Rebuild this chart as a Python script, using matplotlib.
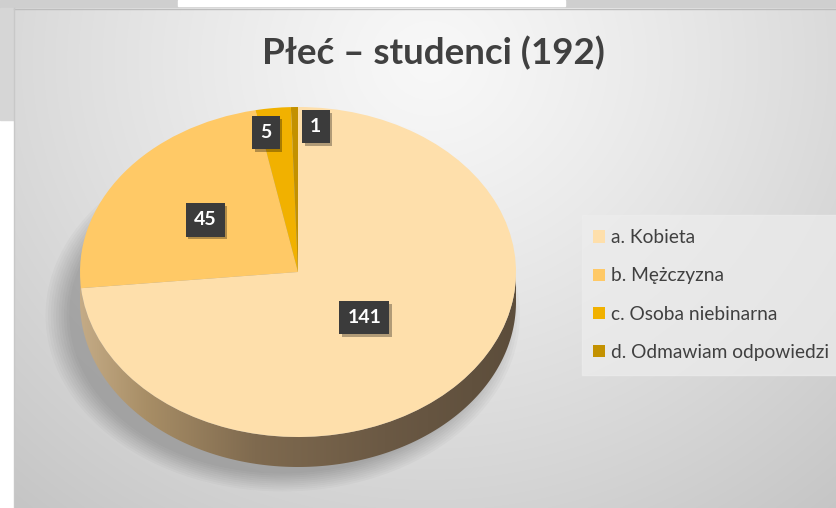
import numpy as np
import matplotlib
matplotlib.use("Agg")
import matplotlib.pyplot as plt
import matplotlib.patheffects as pe
from matplotlib.path import Path
from matplotlib.patches import PathPatch, Rectangle, Ellipse
from matplotlib.colors import LinearSegmentedColormap

# data
categories = ['a. Kobieta', 'b. Mężczyzna', 'c. Osoba niebinarna', 'd. Odmawiam odpowiedzi']
counts = [141, 45, 5, 1]
colors = ['#FEDFAB', '#FFC966', '#F1B100', '#C39100']
title = 'Płeć – studenci (192)'

plt.rcParams['font.family'] = ['Lato', 'DejaVu Sans']

W, H = 837, 508
fig = plt.figure(figsize=(W / 100, H / 100), dpi=100)

# background (pixel coordinates)
bg = fig.add_axes([0, 0, 1, 1])
bg.set_xlim(0, W)
bg.set_ylim(H, 0)
bg.axis('off')
bg.add_patch(Rectangle((0, 0), W, H, color='white', zorder=0))
bg.add_patch(Rectangle((0, 0), W, 8, color='#cfcfcf', zorder=1))
bg.add_patch(Rectangle((178, 0), 387, 6, color='white', zorder=2))
bg.add_patch(Rectangle((0, 8), 14, 112, color='#d6d6d6', zorder=1))

# panel gradient
yy, xx = np.mgrid[8:H, 14:W]
d = np.sqrt(((xx - 430) / 520.0) ** 2 + ((yy - 60) / 480.0) ** 2)
shade = np.clip(248 - 40 * d ** 1.2, 195, 250) / 255.0
bg.imshow(np.dstack([shade] * 3), extent=(14, W, H, 8), zorder=1, aspect='auto')
bg.plot([14, W], [8.5, 8.5], color='#bdbdbd', lw=1, zorder=3)
bg.plot([14.5, 14.5], [8, H], color='#c8c8c8', lw=1, zorder=3)
# legend panel
bg.add_patch(Rectangle((582, 215), 255, 160, color='#ededed', alpha=0.7, zorder=3))

bg.text(433, 53, title, ha='center', va='center', fontsize=26.5, fontweight='bold',
        color='#404040', zorder=4)

# pie axes: top face ellipse centred at (298, 272), semi-axes 218 x 165 px
cx, cy, rx, ry = 298, 272, 218, 165
x0, x1, y0, y1 = 30, 570, 85, 505   # axes box in pixels
ax = fig.add_axes([x0 / W, (H - y1) / H, (x1 - x0) / W, (y1 - y0) / H])
ax.patch.set_alpha(0)
depth = 30 / ry

# soft shadow (mostly to the lower left)
for k in range(10):
    ax.add_patch(Ellipse((-0.07, -depth - 0.08), 2 * (0.98 + 0.012 * k), 2 * (0.96 + 0.012 * k),
                         color='black', alpha=0.022, lw=0, zorder=0))

# side wall
t = np.linspace(np.pi, 2 * np.pi, 200)
top = np.column_stack([np.cos(t), np.sin(t)])
bot = np.column_stack([np.cos(t[::-1]), np.sin(t[::-1]) - depth])
verts = np.vstack([top, bot, top[:1]])
codes = [Path.MOVETO] + [Path.LINETO] * (len(verts) - 2) + [Path.CLOSEPOLY]
wall = PathPatch(Path(verts, codes), facecolor='none', edgecolor='none')
ax.add_patch(wall)
wall_cmap = LinearSegmentedColormap.from_list(
    'wall', [(0, '#c4ab86'), (0.15, '#a88e66'), (0.4, '#7f6a4f'), (0.7, '#6b5944'), (1, '#5c4d3b')])
grad = np.linspace(0, 1, 256).reshape(1, -1)
im = ax.imshow(grad, cmap=wall_cmap, extent=(-1, 1, -1 - depth, 0), aspect='auto', zorder=1)
im.set_clip_path(wall)

wedges, _ = ax.pie(counts, colors=colors, startangle=90, counterclock=False, radius=1,
                   wedgeprops=dict(linewidth=0, zorder=2))
ax.set_aspect('auto')
ax.set_xlim((x0 - cx) / rx, (x1 - cx) / rx)
ax.set_ylim((cy - y1) / ry, (cy - y0) / ry)
ax.axis('off')

# data labels
label_r = [0.41, 0.53, 0.85, 0.88]
label_dx = [0, 0, -11, 21]
for w, n, r, dx in zip(wedges, counts, label_r, label_dx):
    a = np.deg2rad((w.theta1 + w.theta2) / 2)
    txt = ax.annotate(str(n), (r * np.cos(a), r * np.sin(a)), xytext=(dx * 0.72, 0),
                      textcoords='offset points', ha='center', va='center',
                      fontsize=14, fontweight='bold', color='white', zorder=5,
                      bbox=dict(boxstyle='square,pad=0.42', fc='#3b3b3b', ec='none'))
    txt.get_bbox_patch().set_path_effects(
        [pe.withSimplePatchShadow(offset=(2, -2), shadow_rgbFace='black', alpha=0.3)])

leg = ax.legend(wedges, categories, loc='center left', bbox_to_anchor=(593 / W, (H - 295) / H),
                bbox_transform=fig.transFigure, frameon=False, fontsize=13.8,
                handlelength=0.62, handleheight=0.62, handletextpad=0.3,
                labelspacing=1.1, borderaxespad=0, borderpad=0)
for text in leg.get_texts():
    text.set_color('#404040')

fig.savefig('out.png', dpi=100)
